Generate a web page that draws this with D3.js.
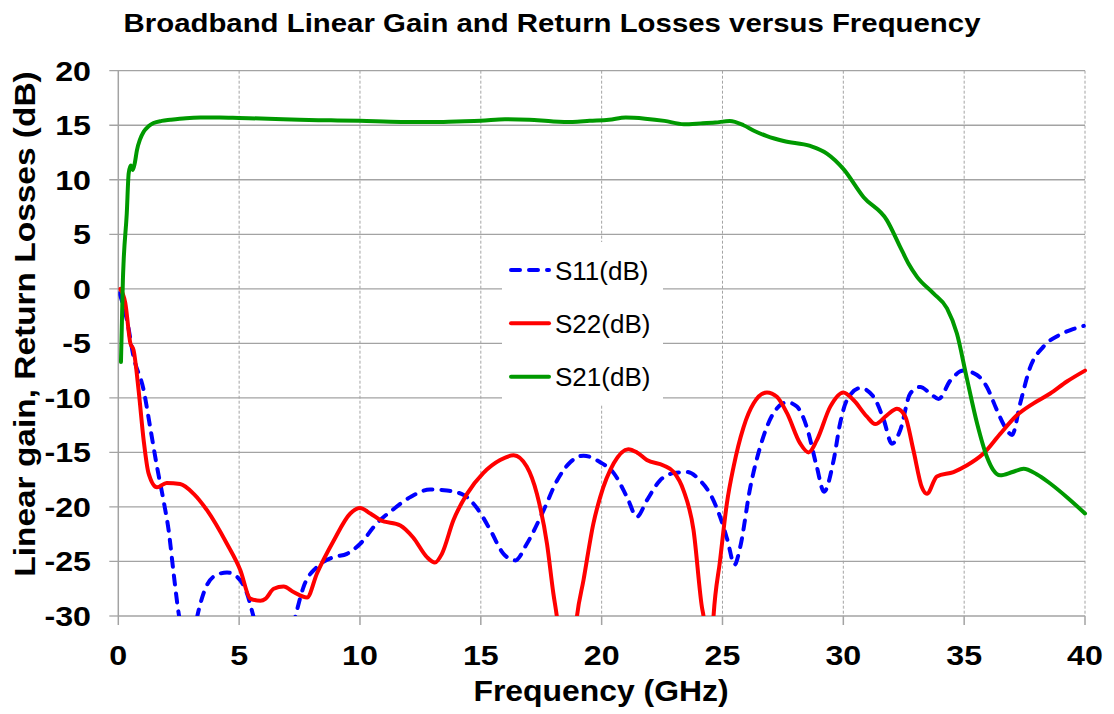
<!DOCTYPE html>
<html>
<head>
<meta charset="utf-8">
<script src="https://cdn.jsdelivr.net/npm/d3@7"></script>
<style>
  html, body { margin: 0; padding: 0; background: #fff; }
  svg { display: block; font-family: Arial, "Liberation Sans", sans-serif; }
</style>
</head>
<body>
<svg id="chart" width="1114" height="714"></svg>
<script>
// ---------- data ----------
const chartTitle = "Broadband Linear Gain and Return Losses versus Frequency";
const xTitle = "Frequency (GHz)";
const yTitle = "Linear gain, Return Losses (dB)";
const xTicks = [0, 5, 10, 15, 20, 25, 30, 35, 40];
const yTicks = [-30, -25, -20, -15, -10, -5, 0, 5, 10, 15, 20];
const seriesNames = ["S11(dB)", "S22(dB)", "S21(dB)"];

const freqS11 = [0.05,0.36,0.63,1.05,1.32,1.6,1.87,2.08,2.29,2.5,2.8,3.05,3.26,3.53,3.94,4.5,4.91,5.32,5.6,6.0,6.5,7.0,7.32,7.67,8.22,8.91,9.46,10.0,10.7,11.39,12.08,12.9,13.6,14.29,14.84,15.39,15.94,16.43,16.9,17.6,18.15,18.7,19.25,19.94,20.5,21.05,21.46,21.87,22.4,22.98,23.53,24.08,24.49,24.9,25.2,25.5,25.73,26.15,26.56,27.11,27.67,28.08,28.49,28.9,29.2,29.6,29.87,30.15,30.7,31.25,31.67,32.01,32.35,32.77,33.18,33.6,33.94,34.43,34.98,35.53,35.94,36.35,36.7,36.98,37.32,37.73,38.28,38.97,39.5,39.95];
const valS11 = [-0.4,-2.9,-6.2,-9.3,-12.7,-16.3,-19.4,-22.1,-26.1,-29.8,-33,-32.5,-30.1,-27.9,-26.4,-26.0,-26.4,-27.9,-30.1,-33.5,-34.5,-33,-30.1,-27.3,-25.5,-24.6,-24.3,-23.4,-21.5,-20.2,-19.1,-18.4,-18.5,-18.9,-20.1,-22.1,-24.3,-24.9,-23.4,-20.3,-17.6,-15.9,-15.3,-15.9,-16.9,-19.1,-20.9,-19.4,-17.6,-16.9,-16.8,-17.6,-18.8,-20.9,-23,-25.3,-23.7,-18.2,-14.5,-11.4,-10.4,-10.8,-12.7,-16.3,-18.6,-15.7,-12.3,-10.2,-9.1,-9.9,-12.0,-14.2,-13.0,-9.6,-9.0,-9.6,-10.1,-8.4,-7.5,-7.9,-9.0,-11.1,-12.7,-13.4,-10.5,-7.2,-5.3,-4.2,-3.7,-3.4];

const freqS22 = [0.08,0.29,0.5,0.63,0.84,1.05,1.25,1.6,2.0,2.56,3.12,3.67,4.5,5.05,5.46,5.88,6.1,6.43,6.84,7.25,7.81,8.22,8.91,9.6,10.0,10.43,10.84,11.67,12.2,12.77,13.1,13.39,13.87,14.43,15.1,15.8,16.36,16.9,17.32,17.74,18.0,18.15,18.5,18.8,18.98,19.25,19.66,19.94,20.5,21.1,21.46,21.87,22.56,22.98,23.39,23.8,24.15,24.22,24.4,24.55,24.63,24.9,25.18,25.46,25.87,26.29,26.84,27.25,27.67,28.22,28.56,28.9,29.46,30.0,30.42,30.97,31.32,31.8,32.22,32.56,32.9,33.25,33.46,33.87,34.56,35.1,35.8,36.49,37.18,37.87,38.56,39.25,40.0];
const valS22 = [0,-1.3,-5.0,-5.6,-9.3,-13.9,-16.9,-18.2,-17.8,-17.9,-18.8,-20.3,-23.4,-25.8,-28.4,-28.6,-28.4,-27.5,-27.3,-27.8,-28.3,-26.1,-23.1,-20.6,-20.1,-20.6,-21.2,-21.7,-22.8,-24.6,-25.1,-24.3,-21.2,-18.8,-16.9,-15.7,-15.26,-16.3,-18.8,-23.4,-27.9,-30.1,-38,-34,-30,-26.7,-21.5,-19.1,-16.0,-14.7,-15.0,-15.7,-16.2,-16.8,-18.5,-22.1,-29.2,-30.1,-36,-33,-30,-24.9,-19.7,-16.3,-12.7,-10.5,-9.5,-9.9,-11.4,-14.2,-15.0,-13.9,-10.8,-9.5,-10.2,-11.7,-12.4,-11.6,-11.0,-11.7,-14.8,-18.2,-18.8,-17.2,-16.8,-16.2,-15.1,-13.3,-11.6,-10.5,-9.6,-8.5,-7.5];

const freqS21 = [0.11,0.15,0.19,0.22,0.35,0.43,0.52,0.6,0.68,0.77,0.9,1.05,1.25,1.46,1.8,2.15,2.8,3.4,4.2,5.0,6.2,7.5,8.8,10.0,11.7,13.0,14.0,15.0,16.0,17.0,18.0,18.8,19.5,20.3,21.0,21.8,22.6,23.4,24.1,24.7,25.3,25.87,26.3,26.84,27.53,28.63,29.32,30.0,30.84,31.8,32.35,32.7,33.05,33.73,34.29,34.7,35.1,35.53,35.94,36.2,36.49,37.0,37.46,38.0,38.56,39.3,40.0];
const valS21 = [-6.7,-3,0.8,2.5,6.9,10.6,11.3,10.9,11.5,12.7,13.7,14.4,14.9,15.2,15.4,15.5,15.65,15.7,15.7,15.66,15.6,15.5,15.45,15.4,15.3,15.3,15.35,15.4,15.55,15.5,15.35,15.3,15.4,15.5,15.7,15.6,15.4,15.1,15.17,15.25,15.38,15.0,14.5,14.0,13.55,13.1,12.4,11.0,8.4,6.3,3.85,2.3,1.1,-0.42,-1.8,-4.1,-8.1,-12.3,-15.4,-16.6,-17.1,-16.8,-16.5,-17.0,-17.85,-19.2,-20.6];

// ---------- layout ----------
const svg = d3.select("#chart");
const X0 = 118.3, X1 = 1085, Y0 = 616, Y1 = 70.7;
const x = d3.scaleLinear().domain([0, 40]).range([X0, X1]);
const y = d3.scaleLinear().domain([-30, 20]).range([Y0, Y1]);
const gridCol = "#a3a3a3";

// title
svg.append("text")
  .attr("transform", "translate(552,32) scale(1.13,1)")
  .attr("text-anchor", "middle")
  .attr("font-weight", "bold").attr("font-size", 26)
  .text(chartTitle);

// horizontal gridlines (solid)
svg.append("g").selectAll("line").data(yTicks.filter(d => d > -30)).join("line")
  .attr("x1", X0 - 9).attr("x2", X1)
  .attr("y1", d => y(d)).attr("y2", d => y(d))
  .attr("stroke", gridCol).attr("stroke-width", 1.3);
// -30 tick
svg.append("line").attr("x1", X0 - 9).attr("x2", X0).attr("y1", Y0).attr("y2", Y0)
  .attr("stroke", gridCol).attr("stroke-width", 1.3);

// vertical gridlines (dashed)
svg.append("g").selectAll("line").data(xTicks.filter(d => d > 0)).join("line")
  .attr("x1", d => x(d)).attr("x2", d => x(d))
  .attr("y1", Y1).attr("y2", Y0)
  .attr("stroke", gridCol).attr("stroke-width", 1).attr("stroke-dasharray", "3,2");

// axes lines
svg.append("line").attr("x1", X0).attr("x2", X0).attr("y1", Y1).attr("y2", Y0)
  .attr("stroke", gridCol).attr("stroke-width", 1.5);
svg.append("line").attr("x1", X0).attr("x2", X1).attr("y1", Y0).attr("y2", Y0)
  .attr("stroke", gridCol).attr("stroke-width", 1.5);
svg.append("g").selectAll("line").data(xTicks).join("line")
  .attr("x1", d => x(d)).attr("x2", d => x(d))
  .attr("y1", Y0).attr("y2", Y0 + 9)
  .attr("stroke", gridCol).attr("stroke-width", 1.5);

// tick labels
svg.append("g").selectAll("text").data(yTicks).join("text")
  .attr("transform", d => `translate(91,${y(d) + 10}) scale(1.15,1)`)
  .attr("text-anchor", "end")
  .attr("font-weight", "bold").attr("font-size", 28)
  .text(d => d);
svg.append("g").selectAll("text").data(xTicks).join("text")
  .attr("transform", d => `translate(${x(d)},665) scale(1.15,1)`)
  .attr("text-anchor", "middle")
  .attr("font-weight", "bold").attr("font-size", 28)
  .text(d => d);

// axis titles
svg.append("text")
  .attr("transform", "translate(601,701) scale(1.1,1)")
  .attr("text-anchor", "middle")
  .attr("font-weight", "bold").attr("font-size", 29)
  .text(xTitle);
svg.append("text")
  .attr("transform", "translate(35,324) rotate(-90) scale(1.115,1)")
  .attr("text-anchor", "middle")
  .attr("font-weight", "bold").attr("font-size", 30)
  .text(yTitle);

// clip
svg.append("clipPath").attr("id", "plotclip").append("rect")
  .attr("x", X0).attr("y", Y1 - 3).attr("width", X1 - X0 + 3).attr("height", Y0 - Y1 + 3);

const line = d3.line().x(d => x(d[0])).y(d => y(d[1])).curve(d3.curveMonotoneX);
const series = [
  { name: seriesNames[0], f: freqS11, v: valS11, color: "#0000ff", dash: "9,9" },
  { name: seriesNames[1], f: freqS22, v: valS22, color: "#ff0000", dash: null },
  { name: seriesNames[2], f: freqS21, v: valS21, color: "#009900", dash: null }
];
const gLines = svg.append("g").attr("clip-path", "url(#plotclip)");
series.forEach(s => {
  gLines.append("path")
    .attr("d", line(s.f.map((f, i) => [f, s.v[i]])))
    .attr("fill", "none").attr("stroke", s.color).attr("stroke-width", 4)
    .attr("stroke-linecap", "round").attr("stroke-linejoin", "round")
    .attr("stroke-dasharray", s.dash);
});

// legend
const lg = svg.append("g");
lg.append("rect").attr("x", 502).attr("y", 242).attr("width", 161).attr("height", 163).attr("fill", "#fff");
const legY = [270, 323.3, 376.7];
series.forEach((s, i) => {
  lg.append("line").attr("x1", 511).attr("x2", 549).attr("y1", legY[i]).attr("y2", legY[i])
    .attr("stroke", s.color).attr("stroke-width", 4).attr("stroke-linecap", "round")
    .attr("stroke-dasharray", s.dash);
  lg.append("text").attr("x", 555).attr("y", legY[i] + 9.5)
    .attr("font-size", 26).attr("fill", "#000").text(s.name);
});
</script>
</body>
</html>
